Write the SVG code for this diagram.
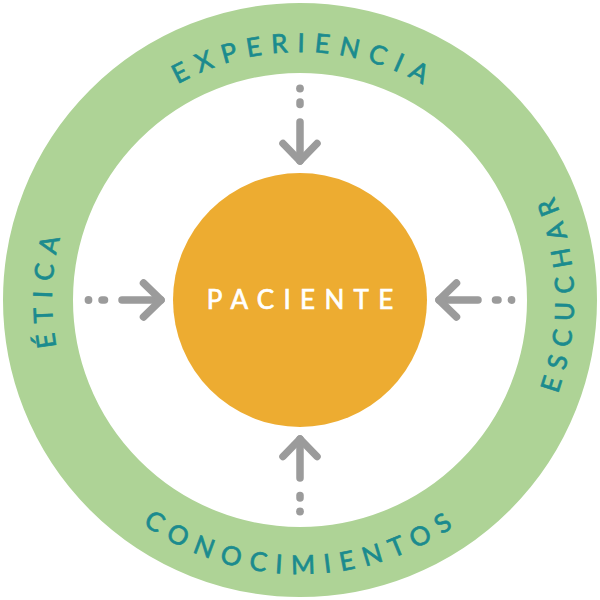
<svg xmlns="http://www.w3.org/2000/svg" xmlns:xlink="http://www.w3.org/1999/xlink" width="600" height="600" viewBox="0 0 600 600">
  <style>
    .ring { fill: none; stroke: #AED396; stroke-width: 70; }
    .core { fill: #EDAC31; }
    .lbl { font-family: Lato, "Open Sans", "Liberation Sans", sans-serif; font-size: 26px; letter-spacing: 9.3px; fill: #1B8B8E; stroke: #1B8B8E; stroke-width: 0.7px; }
    .center { font-family: Lato, "Open Sans", "Liberation Sans", sans-serif; font-size: 26px; letter-spacing: 9.3px; fill: #FFFFFF; stroke: #FFFFFF; stroke-width: 0.7px; }
    .arr { fill: none; stroke: #9B9B9B; stroke-width: 7.5; stroke-linecap: round; stroke-linejoin: round; }
    .dot { fill: #9B9B9B; }
  </style>
  <defs>
    <path id="arcTop" d="M 52,300 A 248 248 0 0 1 548,300"/>
    <path id="arcLeft" d="M 300,548 A 248 248 0 0 1 300,52"/>
    <path id="arcRight" d="M 300,574 A 274 274 0 0 0 300,26"/>
    <path id="arcBottom" d="M 26,300 A 274 274 0 0 0 574,300"/>
    <g id="arrow">
      <circle class="dot" cx="300" cy="88.5" r="3.9"/>
      <line class="arr" x1="300" y1="102" x2="300" y2="104.5"/>
      <line class="arr" x1="300" y1="122" x2="300" y2="161"/>
      <polyline class="arr" points="283,143.5 300,161 317,143.5"/>
    </g>
  </defs>

  <g id="ring">
    <circle class="ring" cx="300" cy="300" r="262"/>
    <text class="lbl"><textPath xlink:href="#arcTop" href="#arcTop" startOffset="394.2" text-anchor="middle">EXPERIENCIA</textPath></text>
    <text class="lbl"><textPath xlink:href="#arcLeft" href="#arcLeft" startOffset="401.7" text-anchor="middle">ÉTICA</textPath></text>
    <text class="lbl"><textPath xlink:href="#arcRight" href="#arcRight" startOffset="440" text-anchor="middle">ESCUCHAR</textPath></text>
    <text class="lbl"><textPath xlink:href="#arcBottom" href="#arcBottom" startOffset="432.5" text-anchor="middle">CONOCIMIENTOS</textPath></text>
  </g>

  <g id="paciente">
    <circle class="core" cx="300" cy="300" r="127"/>
    <text class="center" x="304.65" y="309.3" text-anchor="middle">PACIENTE</text>
  </g>

  <g id="connectors">
    <use xlink:href="#arrow" href="#arrow"/>
    <use xlink:href="#arrow" href="#arrow" transform="rotate(90 300 300)"/>
    <use xlink:href="#arrow" href="#arrow" transform="rotate(180 300 300)"/>
    <use xlink:href="#arrow" href="#arrow" transform="rotate(-90 300 300)"/>
  </g>
</svg>
